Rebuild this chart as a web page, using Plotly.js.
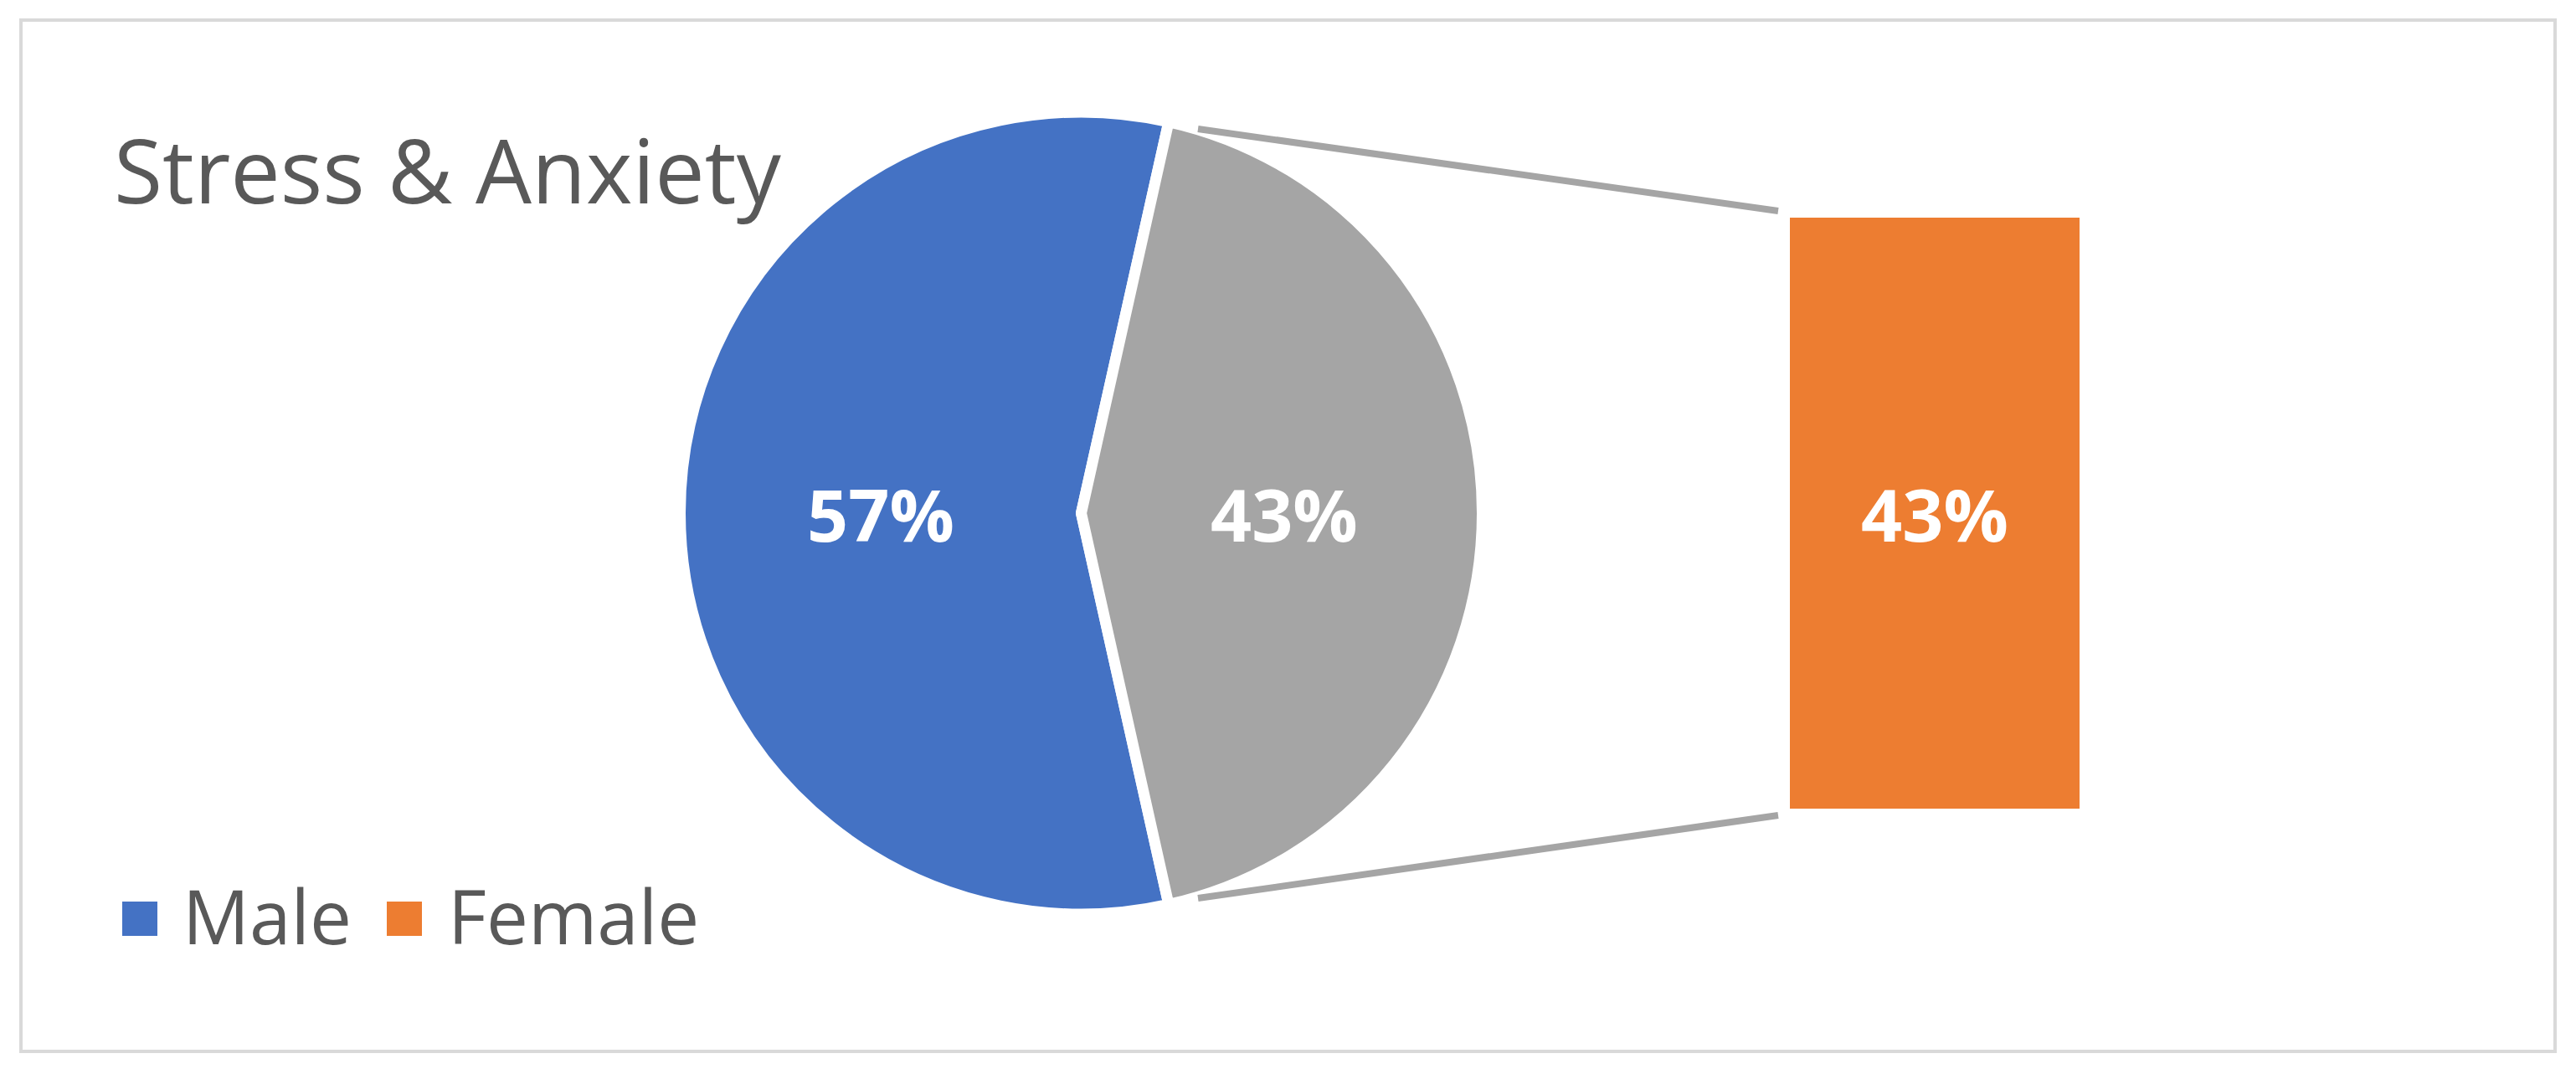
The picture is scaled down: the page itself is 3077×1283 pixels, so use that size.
<!DOCTYPE html>
<html>
<head>
<meta charset="utf-8">
<script src="https://cdn.plot.ly/plotly-3.0.1.min.js"></script>
<style>
  html, body { margin: 0; padding: 0; background: #ffffff; }
  #chart { width: 3077px; height: 1283px; }
</style>
</head>
<body>
<div id="chart"></div>
<script>
// ---- data ----
var chartTitle = 'Stress & Anxiety';
var pieLabels = ['Male', 'Other'];
var pieValues = [57, 43];
var barLabels = ['Female'];
var barValues = [43];
var legendLabels = ['Male', 'Female'];

// ---- styling ----
var W = 3077, H = 1283;
var blue = '#4472C4', gray = '#A5A5A5', orange = '#ED7D31';
var textGray = '#595959';
function px(x) { return x / W; }
function py(y) { return (H - y) / H; }

// pie geometry (pixels)
var cx = 1291.5, cy = 613, R = 479;
var total = pieValues.reduce(function (a, b) { return a + b; }, 0);
var otherFrac = pieValues[1] / total;
var rotation = 90 + otherFrac * 180; // centre "Other" slice at 3 o'clock

var pieTrace = {
  type: 'pie',
  labels: pieLabels,
  values: pieValues,
  sort: false,
  direction: 'clockwise',
  rotation: rotation,
  domain: { x: [px(cx - R), px(cx + R)], y: [py(cy + R), py(cy - R)] },
  marker: { colors: [blue, gray], line: { color: '#ffffff', width: 13 } },
  textinfo: 'percent',
  textposition: 'inside',
  insidetextorientation: 'horizontal',
  textfont: { family: 'Open Sans', size: 86, color: '#ffffff', weight: 'bold' },
  hoverinfo: 'none',
  showlegend: false
};

var barTrace = {
  type: 'bar',
  x: barLabels,
  y: barValues,
  width: 1,
  marker: { color: orange },
  texttemplate: '%{y}%',
  textposition: 'inside',
  insidetextanchor: 'middle',
  textangle: 0,
  constraintext: 'none',
  textfont: { family: 'Open Sans', size: 86, color: '#ffffff', weight: 'bold' },
  hoverinfo: 'none',
  showlegend: false,
  xaxis: 'x',
  yaxis: 'y'
};

var shapes = [
  // chart border
  { type: 'rect', xref: 'paper', yref: 'paper', x0: px(25), x1: px(3052), y0: py(1256), y1: py(24),
    line: { color: '#D9D9D9', width: 4 }, fillcolor: 'rgba(0,0,0,0)' },
  // connector lines
  { type: 'line', xref: 'paper', yref: 'paper', x0: px(1431), y0: py(154), x1: px(2124), y1: py(252),
    line: { color: gray, width: 8 } },
  { type: 'line', xref: 'paper', yref: 'paper', x0: px(1431), y0: py(1073), x1: px(2124), y1: py(974),
    line: { color: gray, width: 8 } },
  // legend swatches
  { type: 'rect', xref: 'paper', yref: 'paper', x0: px(146), x1: px(188), y0: py(1118), y1: py(1077),
    line: { width: 0 }, fillcolor: blue },
  { type: 'rect', xref: 'paper', yref: 'paper', x0: px(462), x1: px(504), y0: py(1118), y1: py(1077),
    line: { width: 0 }, fillcolor: orange }
];

var annotations = [
  { xref: 'paper', yref: 'paper', x: px(216), y: py(1093), xanchor: 'left', yanchor: 'middle',
    text: legendLabels[0], showarrow: false, font: { family: 'Open Sans', size: 89, color: textGray } },
  { xref: 'paper', yref: 'paper', x: px(533), y: py(1093), xanchor: 'left', yanchor: 'middle',
    text: legendLabels[1], showarrow: false, font: { family: 'Open Sans', size: 89, color: textGray } }
];

var layout = {
  width: W, height: H,
  margin: { l: 0, r: 0, t: 0, b: 0, pad: 0 },
  paper_bgcolor: '#ffffff',
  plot_bgcolor: 'rgba(0,0,0,0)',
  title: {
    text: chartTitle,
    x: px(136), y: py(206), xanchor: 'left', yanchor: 'middle',
    xref: 'container', yref: 'container',
    font: { family: 'Open Sans', size: 106, color: textGray }
  },
  xaxis: { domain: [px(2138), px(2484)], type: 'category', range: [-0.5, 0.5], visible: false, fixedrange: true },
  yaxis: { domain: [py(966), py(260)], range: [0, barValues[0]], visible: false, fixedrange: true },
  bargap: 0,
  showlegend: false,
  shapes: shapes,
  annotations: annotations
};

Plotly.newPlot('chart', [pieTrace, barTrace], layout, { staticPlot: true, displayModeBar: false });
</script>
</body>
</html>
